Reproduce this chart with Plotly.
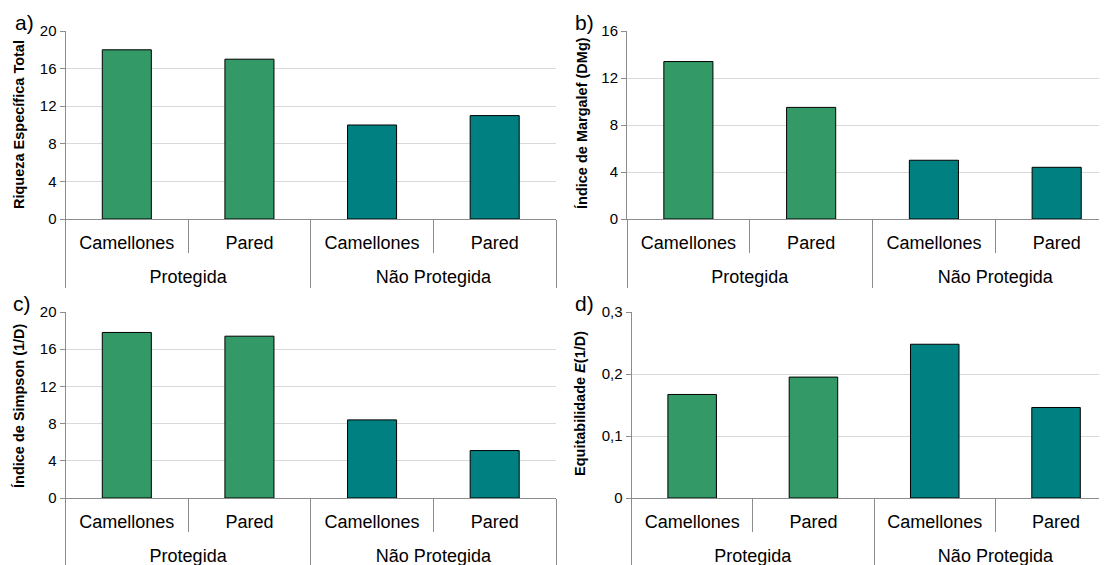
import plotly.graph_objects as go

# ---- data ----
groups = ["Protegida", "Protegida", "Não Protegida", "Não Protegida"]
sites = ["Camellones", "Pared", "Camellones", "Pared"]
riqueza = [18, 17, 10, 11]
margalef = [13.4, 9.5, 5.0, 4.4]
simpson = [17.8, 17.4, 8.4, 5.1]
equitab = [0.167, 0.195, 0.248, 0.146]

ticks_a = [0, 4, 8, 12, 16, 20]
ticks_b = [0, 4, 8, 12, 16]
ticks_d = [0, 0.1, 0.2, 0.3]
ticktext_d = ["0", "0,1", "0,2", "0,3"]

titles = ["<b>Riqueza Específica Total</b>",
          "<b>Índice de Margalef (DMg)</b>",
          "<b>Índice de Simpson (1/D)</b>",
          "<b>Equitabilidade <i>E</i>(1/D)</b>"]
panel_labels = ["a)", "b)", "c)", "d)"]

# ---- styles ----
GREEN = "#339966"
TEAL = "#008080"
bar_colors = [GREEN, GREEN, TEAL, TEAL]
OFF = 8  # page body margin
W, H = 1107 - OFF, 565 - OFF
FONT = "Liberation Sans, Arial, sans-serif"
AX = "#8c8c8c"
GRID = "#d9d9d9"
# tiny second line that makes the first label row taller, pushing the group row down
SPACER = "<br><span style='font-size:1px'>.</span>"

fig = go.Figure()
series = [riqueza, margalef, simpson, equitab]
site_labels = [s + SPACER for s in sites]
for i, vals in enumerate(series):
    sfx = "" if i == 0 else str(i + 1)
    fig.add_trace(go.Bar(
        x=[groups, site_labels], y=vals,
        marker=dict(color=bar_colors, line=dict(color="#000000", width=1)),
        width=0.4, xaxis="x" + sfx, yaxis="y" + sfx, showlegend=False,
        hovertext=[f"{g} / {s}" for g, s in zip(groups, sites)], hoverinfo="text+y",
    ))

def px_x(p):
    return (p - OFF) / W

def px_y(p):
    return 1 - (p - OFF) / H

xdomains = [
    [px_x(65.5), px_x(556)],
    [px_x(627), 1.0],
    [px_x(65.5), px_x(556)],
    [px_x(631.5), 1.0],
]
ydomains = [
    [px_y(219), px_y(31)],
    [px_y(219), px_y(31)],
    [px_y(498), px_y(312)],
    [px_y(498), px_y(312)],
]
xranges = [[-0.5, 3.5], [-0.5, 3.41], [-0.5, 3.5], [-0.5, 3.42]]
yranges = [[0, 20], [0, 16], [0, 20], [0, 0.3]]
yticks = [ticks_a, ticks_b, ticks_a, ticks_d]
yticktext = [[str(v) for v in ticks_a], [str(v) for v in ticks_b],
             [str(v) for v in ticks_a], ticktext_d]

layout = dict(
    width=W, height=H,
    margin=dict(l=0, r=0, t=0, b=0, autoexpand=False),
    paper_bgcolor="white", plot_bgcolor="white",
    font=dict(family=FONT, color="#000000"),
    bargap=0.6,
)
for i in range(4):
    sfx = "" if i == 0 else str(i + 1)
    layout["xaxis" + sfx] = dict(
        type="multicategory", domain=xdomains[i], range=xranges[i],
        anchor="y" + sfx, showline=True, linecolor=AX, linewidth=1,
        ticks="outside", tickson="boundaries", ticklen=33, tickcolor=AX,
        ticklabelstandoff=7,
        showdividers=True, dividercolor=AX, dividerwidth=1,
        tickfont=dict(size=18, family=FONT, color="#000000"),
        showgrid=False, zeroline=False, automargin=False,
    )
    layout["yaxis" + sfx] = dict(
        domain=ydomains[i], range=yranges[i], anchor="x" + sfx,
        tickvals=yticks[i], ticktext=yticktext[i],
        showline=True, linecolor=AX, linewidth=1,
        ticks="outside", ticklen=5, tickcolor=AX,
        showgrid=True, gridcolor=GRID, gridwidth=1,
        zeroline=False, automargin=False,
        tickfont=dict(size=15, family=FONT, color="#000000"),
    )

title_pos = [(19, 125), (582, 123), (19, 406), (580, 404)]
label_pos = [(24, 22), (584, 22), (22, 303), (584, 303)]
ann = []
for i in range(4):
    tx, ty = title_pos[i]
    ann.append(dict(text=titles[i], x=px_x(tx), y=px_y(ty), xref="paper", yref="paper",
                    xanchor="center", yanchor="middle", textangle=-90, showarrow=False,
                    font=dict(size=14.5, family=FONT, color="#000000")))
    lx, ly = label_pos[i]
    ann.append(dict(text=panel_labels[i], x=px_x(lx), y=px_y(ly), xref="paper", yref="paper",
                    xanchor="center", yanchor="middle", showarrow=False,
                    font=dict(size=21, family="Liberation Sans Narrow, Arial Narrow, Liberation Sans",
                              color="#000000")))
layout["annotations"] = ann

fig.update_layout(**layout)
fig.write_html("out.html")
